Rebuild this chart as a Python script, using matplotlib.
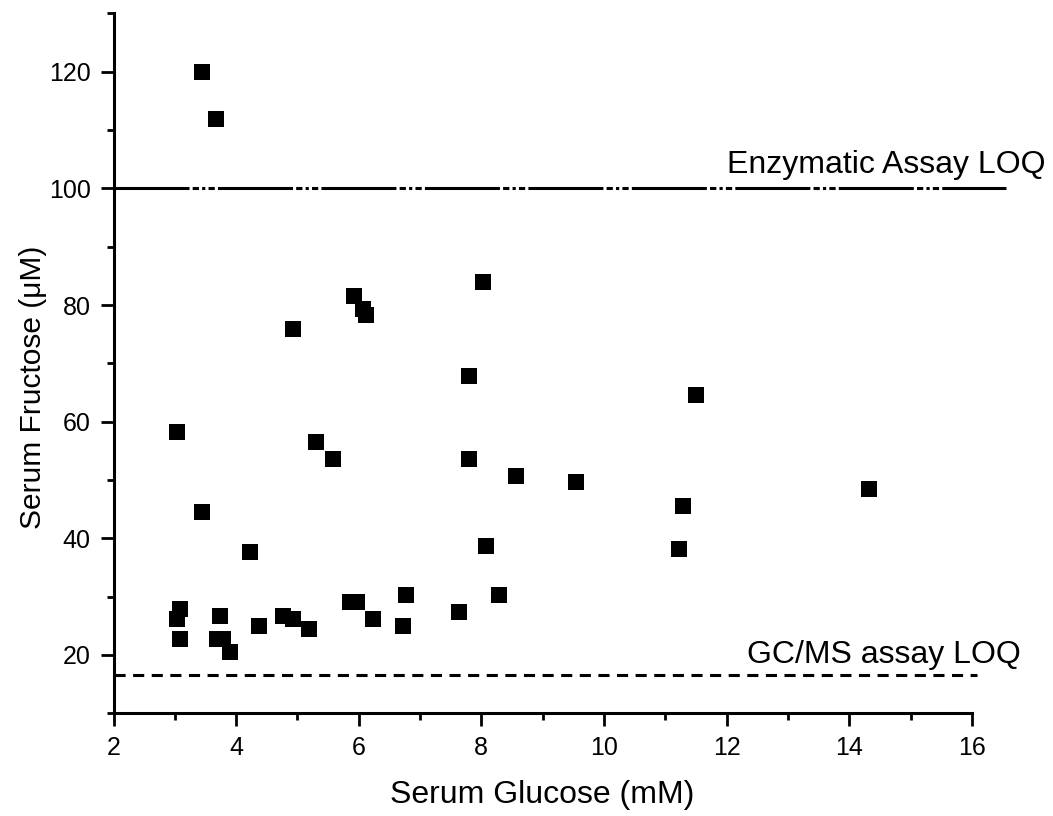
import numpy as np
import matplotlib
matplotlib.use("Agg")
import matplotlib.pyplot as plt
from matplotlib.ticker import MultipleLocator

plt.rcParams['font.family'] = ['Liberation Sans', 'DejaVu Sans']
plt.rcParams['lines.scale_dashes'] = False

# serum glucose (mM) vs serum fructose (uM)
glucose = [3.45, 3.67, 3.03, 3.45, 4.22, 4.92, 5.93, 6.07, 6.12, 5.30,
           5.58, 8.02, 7.80, 7.80, 8.57, 9.54, 11.50, 11.29, 11.23, 14.33,
           8.08, 8.29, 6.77, 5.86, 5.97, 6.23, 6.72, 7.64, 4.38, 4.77,
           4.93, 5.19, 3.08, 3.03, 3.08, 3.74, 3.68, 3.79, 3.90]
fructose = [120.0, 111.9, 58.2, 44.5, 37.6, 75.9, 81.6, 79.3, 78.2, 56.5,
            53.6, 83.9, 67.9, 53.6, 50.7, 49.6, 64.5, 45.6, 38.2, 48.5,
            38.7, 30.2, 30.2, 29.0, 29.0, 26.2, 25.0, 27.3, 25.0, 26.7,
            26.2, 24.5, 27.9, 26.2, 22.7, 26.7, 22.7, 22.7, 20.5]

enzymatic_loq = 100
gcms_loq = 16.5

fig = plt.figure(figsize=(10.53, 8.16), dpi=100)
ax = fig.add_axes([0.1078, 0.1259, 0.8151, 0.8577])

ax.plot(glucose, fructose, linestyle='none', marker='s', markersize=12,
        color='black', markeredgewidth=0)

# LOQ lines run a bit past the end of the x axis
ax.plot([2, 16.55], [enzymatic_loq, enzymatic_loq], color='black', lw=2.2,
        dashes=(54, 2.3, 4.5, 2.3, 2.3, 2.3, 4.5, 2.3), clip_on=False)
ax.plot([2, 16.08], [gcms_loq, gcms_loq], color='black', lw=2.2,
        dashes=(8, 5.4), clip_on=False)

ax.text(12.0, 102.6, 'Enzymatic Assay LOQ', fontsize=23, va='baseline', ha='left')
ax.text(12.33, 18.6, 'GC/MS assay LOQ', fontsize=23, va='baseline', ha='left')

ax.set_xlim(2, 16)
ax.set_ylim(10, 130)
ax.xaxis.set_major_locator(MultipleLocator(2))
ax.xaxis.set_minor_locator(MultipleLocator(1))
ax.set_yticks([20, 40, 60, 80, 100, 120])
ax.yaxis.set_minor_locator(MultipleLocator(10))

for s in ['top', 'right']:
    ax.spines[s].set_visible(False)
for s in ['left', 'bottom']:
    ax.spines[s].set_linewidth(2.2)

ax.tick_params(which='major', direction='out', length=9.5, width=2, labelsize=18, pad=7)
ax.tick_params(which='minor', direction='out', length=5, width=2)

ax.set_xlabel('Serum Glucose (mM)', fontsize=23, labelpad=14)
ax.set_ylabel('Serum Fructose (μM)', fontsize=21.5)
ax.yaxis.set_label_coords(-0.0775, 0.466)

fig.savefig('out.png', dpi=100)
